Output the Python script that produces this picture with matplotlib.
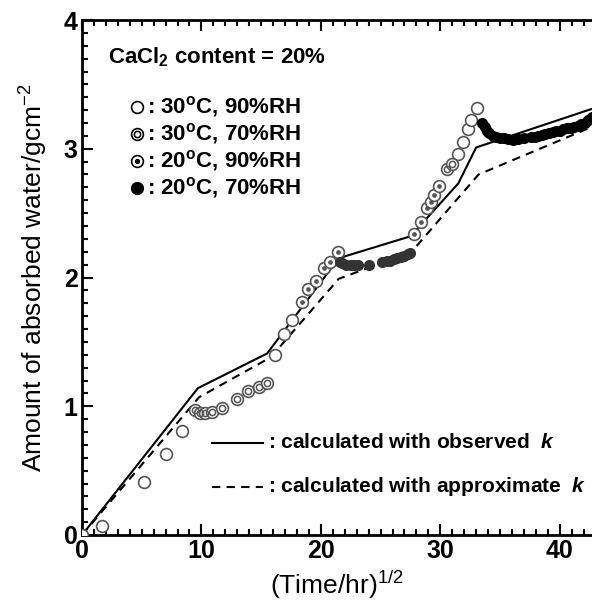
import matplotlib
matplotlib.use("Agg")
import matplotlib.pyplot as plt
from matplotlib.ticker import MultipleLocator

plt.rcParams['font.family'] = ['Liberation Sans', 'DejaVu Sans']
plt.rcParams['mathtext.fontset'] = 'custom'
plt.rcParams['mathtext.rm'] = 'Liberation Sans:bold'
plt.rcParams['mathtext.it'] = 'Liberation Sans:italic:bold'
plt.rcParams['mathtext.sf'] = 'Liberation Sans'

# ---- data ----
solid_x = [0, 9.7, 15.5, 21.5, 27.5, 31.5, 33.0, 42.7]
solid_y = [0, 1.14, 1.41, 2.15, 2.32, 2.73, 3.01, 3.31]
dash_x = [0, 9.8, 15.8, 21.5, 27.6, 33.2, 42.7]
dash_y = [0, 1.07, 1.38, 1.99, 2.20, 2.80, 3.17]

open_x = [0, 1.7, 5.2, 7.0, 8.4, 16.2, 16.9, 17.6, 31.5, 31.9, 32.3, 32.6, 33.1]
open_y = [0, 0.07, 0.41, 0.63, 0.81, 1.40, 1.56, 1.67, 2.96, 3.05, 3.15, 3.22, 3.32]

dbl_x = [9.5, 9.9, 10.3, 10.9, 11.7, 13.0, 13.9, 14.8, 15.5, 30.6, 31.0]
dbl_y = [0.97, 0.95, 0.95, 0.955, 0.99, 1.06, 1.12, 1.15, 1.18, 2.84, 2.88]

dot_x = [18.4, 18.9, 19.6, 20.3, 20.8, 21.4, 27.8, 28.4, 28.9, 29.2, 29.5, 29.9]
dot_y = [1.81, 1.91, 1.97, 2.07, 2.12, 2.20, 2.34, 2.43, 2.54, 2.59, 2.64, 2.71]

fillA_x = [21.6, 21.8, 22.1, 22.5, 22.8, 23.1, 24.0, 25.1, 25.5, 25.8, 26.1, 26.4, 26.7, 27.0, 27.3, 27.5]
fillA_y = [2.12, 2.11, 2.10, 2.10, 2.10, 2.10, 2.10, 2.12, 2.125, 2.13, 2.14, 2.15, 2.16, 2.17, 2.18, 2.19]

fillB_x = [33.5, 33.7, 33.9, 34.1, 34.4, 34.7, 35.0, 35.3, 35.7, 36.1, 36.5, 37.0, 37.6, 37.9, 38.2,
           38.5, 38.8, 39.1, 39.4, 39.7, 40.0, 40.3, 40.6, 40.9, 41.2, 41.5, 41.8, 42.1, 42.4, 42.7]
fillB_y = [3.20, 3.17, 3.14, 3.12, 3.10, 3.09, 3.085, 3.08, 3.075, 3.07, 3.075, 3.08, 3.09, 3.095, 3.10,
           3.11, 3.115, 3.12, 3.13, 3.135, 3.14, 3.15, 3.16, 3.165, 3.17, 3.18, 3.19, 3.20, 3.22, 3.25]

xticks = [0, 10, 20, 30, 40]
yticks = [0, 1, 2, 3, 4]

legend_labels = [': 30$^\\mathrm{o}$C, 90%RH', ': 30$^\\mathrm{o}$C, 70%RH',
                 ': 20$^\\mathrm{o}$C, 90%RH', ': 20$^\\mathrm{o}$C, 70%RH']

W, H = 592, 603
fig = plt.figure(figsize=(W / 100, H / 100), dpi=100)
ax = fig.add_axes([82 / W, 68 / H, 1 - 82 / W, 515 / H])

grey = '#555555'
ms = 8.5
ax.plot(solid_x, solid_y, color='black', lw=1.5, zorder=2)
ax.plot(dash_x, dash_y, color='black', lw=1.5, ls=(0, (4, 3)), zorder=2)

ax.plot(open_x, open_y, 'o', ms=ms, mfc='white', mec=grey, mew=1.2, zorder=3)
ax.plot(dbl_x, dbl_y, 'o', ms=ms, mfc='white', mec=grey, mew=1.2, zorder=3)
ax.plot(dbl_x, dbl_y, 'o', ms=4.5, mfc='none', mec=grey, mew=1.1, zorder=3)
ax.plot(dot_x, dot_y, 'o', ms=ms, mfc='white', mec=grey, mew=1.2, zorder=3)
ax.plot(dot_x, dot_y, 'o', ms=2.8, mfc=grey, mec=grey, mew=0.5, zorder=3)
ax.plot(fillA_x, fillA_y, 'o', ms=7, mfc='#333333', mec='#333333', zorder=4)
ax.plot(fillB_x, fillB_y, 'o', ms=7, mfc='black', mec='black', zorder=4)

ax.set_xlim(0, 42.7)
ax.set_ylim(0, 4)
ax.set_xticks(xticks)
ax.set_yticks(yticks)
ax.xaxis.set_minor_locator(MultipleLocator(1))
ax.yaxis.set_minor_locator(MultipleLocator(0.1))
ax.tick_params(which='both', direction='in', top=True, right=False, width=1.5)
ax.tick_params(which='major', length=8, labelsize=18, pad=3)
ax.tick_params(which='minor', length=4)
for lab in ax.get_xticklabels() + ax.get_yticklabels():
    lab.set_fontweight('bold')
for s in ['left', 'bottom', 'top']:
    ax.spines[s].set_linewidth(2)
ax.spines['right'].set_visible(False)

ax.set_xlabel('(Time/hr)$^{\\mathsf{1/2}}$', fontsize=19, labelpad=4)
ax.set_ylabel('Amount of absorbed water/gcm$^{\\mathsf{-2}}$', fontsize=19, labelpad=10)

# legend block (markers)
tr = ax.transAxes
ax.text((108 - 82) / 510, (535 - 57) / 515, 'CaCl$_\\mathrm{2}$ content = 20%', transform=tr,
        fontsize=16, fontweight='bold', va='center', ha='left')
rows = [(535 - y) / 515 for y in (107, 134, 161, 188)]
mx = (137 - 82) / 510
kw = dict(transform=tr, clip_on=False, ls='none')
ax.plot([mx], [rows[0]], 'o', ms=ms, mfc='white', mec='black', mew=1.2, **kw)
ax.plot([mx], [rows[1]], 'o', ms=ms, mfc='white', mec='black', mew=1.2, **kw)
ax.plot([mx], [rows[1]], 'o', ms=4.5, mfc='none', mec='black', mew=1.1, **kw)
ax.plot([mx], [rows[2]], 'o', ms=ms, mfc='white', mec='black', mew=1.2, **kw)
ax.plot([mx], [rows[2]], 'o', ms=2.8, mfc='black', mec='black', **kw)
ax.plot([mx], [rows[3]], 'o', ms=ms, mfc='black', mec='black', **kw)
for r, lab in zip(rows, legend_labels):
    ax.text((147 - 82) / 510, r, lab, transform=tr, fontsize=16, fontweight='bold',
            va='center', ha='left')

# line legend
ly1 = (535 - 443) / 515
ly2 = (535 - 487) / 515
ax.plot([(212 - 82) / 510, (263 - 82) / 510], [ly1, ly1], color='black', lw=1.5, transform=tr)
ax.plot([(212 - 82) / 510, (263 - 82) / 510], [ly2, ly2], color='black', lw=1.5,
        ls=(0, (4, 3)), transform=tr)
ax.text((268 - 82) / 510, ly1, ': calculated with observed  $k$', transform=tr, fontsize=15,
        fontweight='bold', va='center', ha='left')
ax.text((268 - 82) / 510, ly2, ': calculated with approximate  $k$', transform=tr, fontsize=15,
        fontweight='bold', va='center', ha='left')

fig.savefig('out.png', dpi=100)
